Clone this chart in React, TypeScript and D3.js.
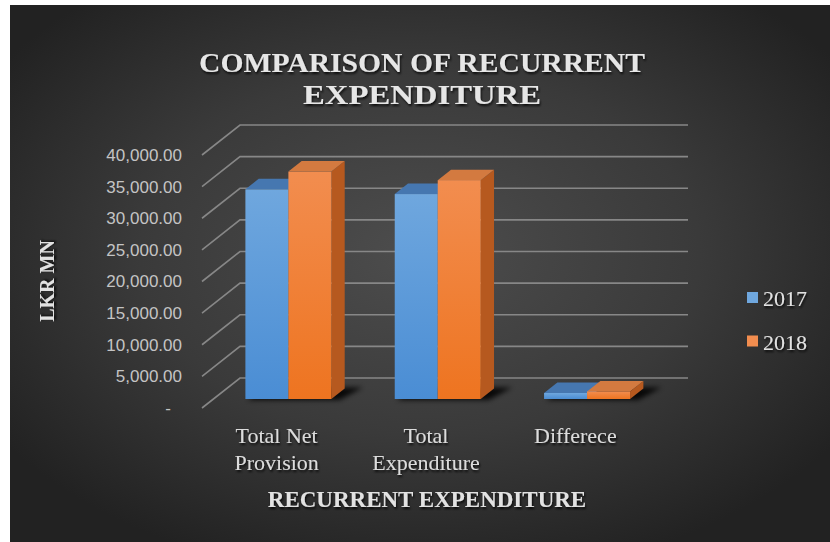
import React, { useEffect } from "react";
import * as d3 from "d3";

const categories = ["Total Net Provision", "Total Expenditure", "Differece"];
const categoryLines = [["Total Net", "Provision"], ["Total", "Expenditure"], ["Differece"]];
const seriesNames = ["2017", "2018"];
const values2017 = [33150, 32400, 950];
const values2018 = [35950, 34600, 1200];
const yTicks = [0, 5000, 10000, 15000, 20000, 25000, 30000, 35000, 40000];
const titleLines = ["COMPARISON OF RECURRENT", "EXPENDITURE"];
const xTitle = "RECURRENT EXPENDITURE";
const yTitle = "LKR MN";

const W = 830;
const H = 542;
const SERIF = "'Liberation Serif', 'Times New Roman', serif";
const SANS = "'Liberation Sans', Arial, sans-serif";

const palette = {
  "2017": { top: "#4677b0", side: "#3d6ea8", g0: "#6fa7de", g1: "#4a8dd4" },
  "2018": { top: "#d37a40", side: "#b6591f", g0: "#f28d4f", g1: "#ee7420" },
};

export default function App() {
  useEffect(() => {
    document.body.style.margin = "0";
  }, []);

  const front = { x0: 202, x1: 650 };
  const depth = { dx: 38, dy: -30 };
  const f1 = 0.3;
  const f2 = 0.65;

  const y = d3.scaleLinear().domain([0, 40000]).range([408, 155]);
  const x0 = d3.scaleBand<string>().domain(categories).range([front.x0, front.x1]).padding(0);
  const x1 = d3.scaleBand<string>().domain(seriesNames).range([32, 118]).padding(0);
  const fmt = d3.format(",.2f");
  const seriesValues: Record<string, number[]> = { "2017": values2017, "2018": values2018 };

  const pts = (p: [number, number][]) => p.map((q) => q.join(",")).join(" ");

  const bars: JSX.Element[] = [];
  const shadows: JSX.Element[] = [];
  categories.forEach((c, ci) => {
    const bx = x0(c)!;
    const gl = bx + x1(seriesNames[0])!;
    const gr = bx + x1(seriesNames[seriesNames.length - 1])! + x1.bandwidth();
    const yb = y(0);
    shadows.push(
      <polygon
        key={"sh" + ci}
        points={pts([
          [gl + depth.dx * f1 + 2, yb + depth.dy * f1 + 1],
          [gr + depth.dx * f1 + 8, yb + depth.dy * f1 + 1],
          [gr + depth.dx * f2 + 18, yb + depth.dy * f2 - 1],
          [gl + depth.dx * f2 + 6, yb + depth.dy * f2 - 1],
        ])}
        fill="#000"
        opacity={0.85}
        filter="url(#blurShadow)"
      />
    );
    seriesNames.forEach((s) => {
      const v = seriesValues[s][ci];
      const xl = bx + x1(s)!;
      const w = x1.bandwidth();
      const ax = depth.dx * f1, ay = depth.dy * f1;
      const bxo = depth.dx * f2, byo = depth.dy * f2;
      const yt = y(v);
      const y0 = y(0);
      const col = (palette as any)[s];
      bars.push(
        <g key={s + ci}>
          <polygon
            points={pts([
              [xl + w + ax, yt + ay],
              [xl + w + bxo, yt + byo],
              [xl + w + bxo, y0 + byo],
              [xl + w + ax, y0 + ay],
            ])}
            fill={col.side}
          />
          <polygon
            points={pts([
              [xl + ax, yt + ay],
              [xl + w + ax, yt + ay],
              [xl + w + bxo, yt + byo],
              [xl + bxo, yt + byo],
            ])}
            fill={col.top}
          />
          <rect
            x={xl + ax}
            y={yt + ay}
            width={w}
            height={y0 - yt}
            fill={`url(#grad${s})`}
          />
        </g>
      );
    });
  });

  const textColor = "#e2e2e2";

  return (
    <svg width={W} height={H} style={{ display: "block" }}>
      <defs>
        <radialGradient id="bg" cx="50%" cy="46%" r="62%">
          <stop offset="0%" stopColor="#4d4d4d" />
          <stop offset="55%" stopColor="#3a3a3a" />
          <stop offset="100%" stopColor="#222222" />
        </radialGradient>
        {seriesNames.map((s) => (
          <linearGradient key={s} id={`grad${s}`} x1="0" y1="0" x2="0" y2="1">
            <stop offset="0%" stopColor={(palette as any)[s].g0} />
            <stop offset="100%" stopColor={(palette as any)[s].g1} />
          </linearGradient>
        ))}
        <filter id="blurShadow" x="-30%" y="-100%" width="160%" height="300%">
          <feGaussianBlur stdDeviation="2.5" />
        </filter>
        <filter id="txtShadow" x="-10%" y="-30%" width="120%" height="160%">
          <feDropShadow dx="1" dy="2" stdDeviation="1.2" floodColor="#000" floodOpacity="0.8" />
        </filter>
      </defs>
      <rect x={0} y={0} width={W} height={H} fill="#ffffff" />
      <rect x={10} y={5} width={W - 10} height={H - 5} fill="url(#bg)" />

      {/* title */}
      <g fill="#e6e6e6" fontFamily={SERIF} fontWeight="bold" fontSize={28} textAnchor="middle" filter="url(#txtShadow)">
        <text x={422} y={72} textLength={446} lengthAdjust="spacingAndGlyphs">{titleLines[0]}</text>
        <text x={422} y={104} textLength={238} lengthAdjust="spacingAndGlyphs">{titleLines[1]}</text>
      </g>

      {/* gridlines */}
      <g stroke="#878787" strokeWidth={1.6} fill="none">
        {yTicks.map((t) => (
          <polyline
            key={t}
            points={pts([
              [front.x0, y(t)],
              [front.x0 + depth.dx, y(t) + depth.dy],
              [front.x1 + depth.dx, y(t) + depth.dy],
            ])}
          />
        ))}
      </g>

      {/* tick labels */}
      <g fill="#c4c4c4" fontFamily={SANS} fontSize={17} textAnchor="end">
        {yTicks.map((t) => (
          <text key={t} x={t === 0 ? 171 : 182} y={y(t)} dy="0.35em">
            {t === 0 ? "-" : fmt(t)}
          </text>
        ))}
      </g>

      {shadows}
      {bars}

      {/* category labels */}
      <g fill="#dcdcdc" fontFamily={SERIF} fontSize={22} textAnchor="middle" filter="url(#txtShadow)">
        {categories.map((c, i) =>
          categoryLines[i].map((ln, j) => (
            <text key={c + j} x={x0(c)! + x0.bandwidth() / 2} y={443 + j * 27}>
              {ln}
            </text>
          ))
        )}
      </g>

      {/* axis titles */}
      <text
        x={427}
        y={507}
        textAnchor="middle"
        fill={textColor}
        fontFamily={SERIF}
        fontWeight="bold"
        fontSize={23}
        filter="url(#txtShadow)"
      >
        {xTitle}
      </text>
      <text
        transform={`translate(54,281) rotate(-90)`}
        textAnchor="middle"
        fill={textColor}
        fontFamily={SERIF}
        fontWeight="bold"
        fontSize={20}
        filter="url(#txtShadow)"
      >
        {yTitle}
      </text>

      {/* legend */}
      <g fontFamily={SERIF} fontSize={22} fill={textColor}>
        {seriesNames.map((s, i) => (
          <g key={s} transform={`translate(747,${292 + i * 43.5})`}>
            <rect x={0} y={0} width={11} height={11} fill={(palette as any)[s].g0} />
            <text x={16} y={14} filter="url(#txtShadow)">{s}</text>
          </g>
        ))}
      </g>
    </svg>
  );
}
